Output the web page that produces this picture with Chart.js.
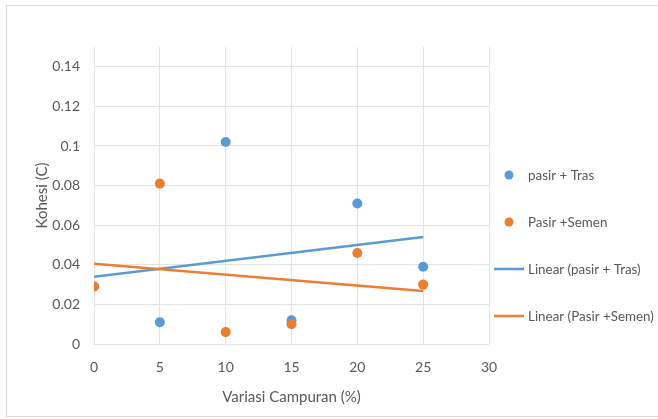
<!DOCTYPE html>
<html>
<head>
<meta charset="utf-8">
<script src="https://cdn.jsdelivr.net/npm/chart.js@4.4.1/dist/chart.umd.min.js"></script>
<style>
  html, body { margin: 0; padding: 0; background: #ffffff; }
  #wrap { position: relative; width: 658px; height: 419px; }
  #frame { position: absolute; left: 6px; top: 5px; width: 660px; height: 412px;
           border: 1px solid #d9d9d9; box-sizing: border-box; pointer-events: none; }
  canvas { position: absolute; left: 0; top: 0; }
</style>
</head>
<body>
<div id="wrap">
  <canvas id="chart" width="658" height="419"></canvas>
  <div id="frame"></div>
</div>
<script>
// Mix variation (%) and measured cohesion C for each mixture
const variasi = [0, 5, 10, 15, 20, 25];
const kohesiTras = [0.029, 0.011, 0.102, 0.012, 0.071, 0.039];
const kohesiSemen = [0.029, 0.081, 0.006, 0.010, 0.046, 0.030];

const seriesNames = ['pasir + Tras', 'Pasir +Semen'];
const trendNames = ['Linear (pasir + Tras)', 'Linear (Pasir +Semen)'];

const xTicks = [0, 5, 10, 15, 20, 25, 30];
const yTicks = [0, 0.02, 0.04, 0.06, 0.08, 0.1, 0.12, 0.14];

const BLUE = '#5b9bd5';
const ORANGE = '#ed7d31';
const TEXT = '#595959';
const GRID = '#e3e3e3';
const FONT = 'Lato, "Open Sans", sans-serif';

// least-squares linear trendline evaluated over the data's x range
function linearTrend(xs, ys) {
  const n = xs.length;
  const mx = xs.reduce((a, b) => a + b, 0) / n;
  const my = ys.reduce((a, b) => a + b, 0) / n;
  let sxy = 0, sxx = 0;
  for (let i = 0; i < n; i++) {
    sxy += (xs[i] - mx) * (ys[i] - my);
    sxx += (xs[i] - mx) * (xs[i] - mx);
  }
  const slope = sxy / sxx;
  const icept = my - slope * mx;
  const x0 = Math.min(...xs), x1 = Math.max(...xs);
  return [{ x: x0, y: icept + slope * x0 }, { x: x1, y: icept + slope * x1 }];
}

const toPoints = (xs, ys) => xs.map((x, i) => ({ x, y: ys[i] }));

// legend drawn at the right of the plot area
const sideLegend = {
  id: 'sideLegend',
  afterDraw(chart, args, opts) {
    const ctx = chart.ctx;
    ctx.save();
    ctx.font = opts.fontSize + 'px ' + FONT;
    ctx.textBaseline = 'middle';
    ctx.fillStyle = TEXT;
    chart.data.datasets.forEach((ds, i) => {
      const y = opts.top + i * opts.spacing;
      const cx = opts.left + opts.symbolWidth / 2;
      if (ds.type === 'scatter') {
        ctx.beginPath();
        ctx.arc(cx, y, opts.dotRadius, 0, Math.PI * 2);
        ctx.fillStyle = ds.backgroundColor;
        ctx.fill();
      } else {
        ctx.beginPath();
        ctx.moveTo(opts.left, y);
        ctx.lineTo(opts.left + opts.symbolWidth, y);
        ctx.strokeStyle = ds.borderColor;
        ctx.lineWidth = ds.borderWidth;
        ctx.stroke();
      }
      ctx.fillStyle = TEXT;
      ctx.fillText(ds.label, opts.left + opts.symbolWidth + opts.gap, y + 1);
    });
    ctx.restore();
  }
};

new Chart(document.getElementById('chart'), {
  data: {
    datasets: [
      { type: 'scatter', label: seriesNames[0], data: toPoints(variasi, kohesiTras),
        backgroundColor: BLUE, borderColor: BLUE, pointRadius: 5, pointBorderWidth: 0, order: 1 },
      { type: 'scatter', label: seriesNames[1], data: toPoints(variasi, kohesiSemen),
        backgroundColor: ORANGE, borderColor: ORANGE, pointRadius: 5, pointBorderWidth: 0, order: 0 },
      { type: 'line', label: trendNames[0], data: linearTrend(variasi, kohesiTras),
        borderColor: BLUE, backgroundColor: BLUE, borderWidth: 2.5, pointRadius: 0, order: 3 },
      { type: 'line', label: trendNames[1], data: linearTrend(variasi, kohesiSemen),
        borderColor: ORANGE, backgroundColor: ORANGE, borderWidth: 2.5, pointRadius: 0, order: 2 }
    ]
  },
  options: {
    responsive: false,
    animation: false,
    events: [],
    layout: { padding: { left: 0, top: 47, right: 169, bottom: 0 } },
    plugins: {
      legend: { display: false },
      tooltip: { enabled: false },
      sideLegend: { left: 494, top: 175, spacing: 47, symbolWidth: 30, gap: 4,
                    dotRadius: 4.5, fontSize: 13.4 }
    },
    scales: {
      x: {
        type: 'linear', min: 0, max: 30,
        afterBuildTicks: s => { s.ticks = xTicks.map(v => ({ value: v })); },
        afterFit: s => { s.height = 75; },
        grid: { color: GRID, lineWidth: 1, drawTicks: false },
        border: { display: false },
        ticks: { color: TEXT, padding: 15, font: { family: FONT, size: 14 } },
        title: { display: true, text: 'Variasi Campuran (%)', color: TEXT,
                 font: { family: FONT, size: 15 }, padding: { top: 0, bottom: 13 } }
      },
      y: {
        type: 'linear', min: 0, max: 0.15,
        afterBuildTicks: s => { s.ticks = yTicks.map(v => ({ value: v })); },
        afterFit: s => { s.width = 94; },
        grid: { color: GRID, lineWidth: 1, drawTicks: false },
        border: { display: false },
        ticks: { color: TEXT, padding: 14, font: { family: FONT, size: 14 },
                 callback: v => String(Math.round(v * 100) / 100) },
        title: { display: true, text: 'Kohesi (C)', color: TEXT,
                 font: { family: FONT, size: 15 }, padding: { top: 33, bottom: 0 } }
      }
    }
  },
  plugins: [sideLegend]
});
</script>
</body>
</html>
